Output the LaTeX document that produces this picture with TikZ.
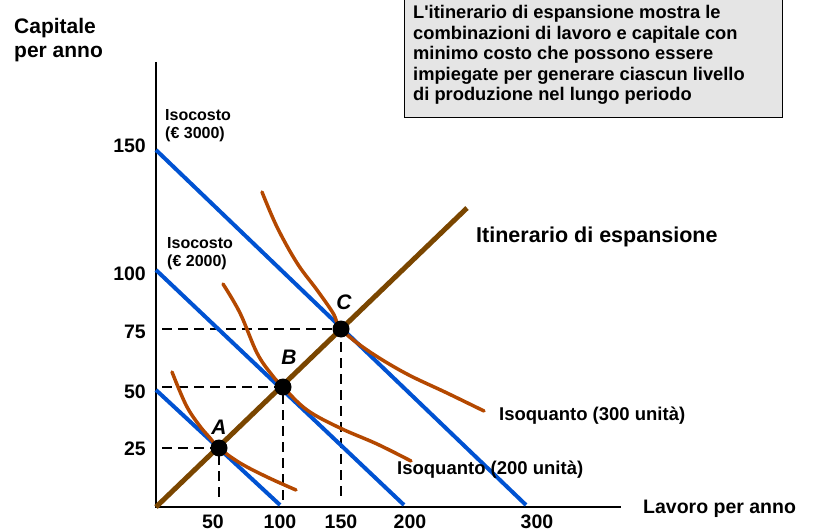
\documentclass[tikz,border=0pt]{standalone}
\usepackage{fontspec}
\setmainfont{Liberation Sans}
\begin{document}
\begin{tikzpicture}[x=1pt,y=-1pt,
  isocost/.style={line width=4pt,color=costblue},
  isoq/.style={line width=3.5pt,color=qorange,line cap=round},
  exppath/.style={line width=5pt,color=pbrown},
  guide/.style={line width=2.8pt,dash pattern=on 10pt off 6pt},
  axis/.style={line width=2.2pt},
  dot/.style={circle,fill=black,minimum size=17pt,inner sep=0pt},
  lbl/.style={font=\bfseries\fontsize{21.5}{24}\selectfont,inner sep=0pt},
  tick/.style={font=\bfseries\fontsize{19.5}{22}\selectfont,inner sep=0pt},
  small/.style={font=\bfseries\fontsize{16}{18}\selectfont,inner sep=0pt,align=left},
  qlbl/.style={font=\bfseries\fontsize{18.5}{21}\selectfont,inner sep=0pt},
  pt/.style={font=\bfseries\itshape\fontsize{21}{24}\selectfont,inner sep=0pt}]
\definecolor{costblue}{RGB}{0,82,210}
\definecolor{qorange}{RGB}{180,72,0}
\definecolor{pbrown}{RGB}{122,70,0}
\useasboundingbox (0,0) rectangle (813,532);
% text box
\node (box) [draw,line width=1pt,fill=gray!20,minimum width=378pt,minimum height=118pt,anchor=north west,inner sep=0pt] at (404,-1) {};
\node (boxtext) [anchor=north west,inner sep=0pt,align=left,font=\bfseries\fontsize{18.3}{20.6}\selectfont] at (413,5)
 {L\textquotesingle itinerario di espansione mostra le\\combinazioni di lavoro e capitale con\\minimo costo che possono essere\\impiegate per generare ciascun livello\\di produzione nel lungo periodo};
% axes
\coordinate (O) at (156,507);
\coordinate (Ytop) at (156,62);
\coordinate (Xend) at (621,507);
\draw[axis] (Ytop) -- (O) -- (Xend);
% points
\coordinate (A) at (219,448);
\coordinate (B) at (283,387);
\coordinate (C) at (341,329);
% guides
\coordinate (Ay) at (162,448); \coordinate (Ax) at (219,500);
\coordinate (By) at (162,387); \coordinate (Bx) at (283,500);
\coordinate (Cy) at (162,329); \coordinate (Cx) at (341,500);
\draw[guide] (Ay) -- (A) -- (Ax);
\draw[guide] (By) -- (B) -- (Bx);
\draw[guide] (Cy) -- (C) -- (Cx);
% isocost lines
\coordinate (k1a) at (156,390); \coordinate (k1b) at (280,505);
\coordinate (k2a) at (156,270); \coordinate (k2b) at (404,505);
\coordinate (k3a) at (156,150); \coordinate (k3b) at (526,505);
\draw[isocost] (k1a) -- (k1b);
\draw[isocost] (k2a) -- (k2b);
\draw[isocost] (k3a) -- (k3b);
% isoquants
\draw[isoq] plot[smooth,tension=0.6] coordinates {(172,372) (186,405) (199,425) (210,438) (219,448) (240,463) (267,477) (296,490)};
\draw[isoq] plot[smooth,tension=0.6] coordinates {(223,284) (240,313) (257,353) (272,375) (283,387) (307,410) (340,428) (377,444) (411,461)};
\draw[isoq] plot[smooth,tension=0.6] coordinates {(262,192) (277,227) (297,263) (317,290) (333,313) (341,329) (367,350) (405,373) (447,393) (484,411)};
% expansion path
\coordinate (Pend) at (467,208);
\draw[exppath] (O) -- (Pend);
\node[dot] (dA) at (A) {};
\node[dot] (dB) at (B) {};
\node[dot] (dC) at (C) {};
\node[pt] (lA) at (219,427) {A};
\node[pt] (lB) at (289,357) {B};
\node[pt] (lC) at (344,302) {C};
% axis labels
\node[anchor=west,align=left,inner sep=0pt,font=\bfseries\fontsize{21}{24}\selectfont] (ylab) at (14,40) {Capitale\\per anno};
\node[anchor=west,inner sep=0pt,font=\bfseries\fontsize{19.5}{22}\selectfont] (xlab) at (643,509) {Lavoro per anno};
% ticks
\node[tick,anchor=east] (t150) at (146,146) {150};
\node[tick,anchor=east] (t100) at (146,274) {100};
\node[tick,anchor=east] (t75) at (146,332) {75};
\node[tick,anchor=east] (t50) at (146,392) {50};
\node[tick,anchor=east] (t25) at (146,449) {25};
\node[tick] (x50) at (213,522) {50};
\node[tick] (x100) at (280,522) {100};
\node[tick] (x150) at (341,522) {150};
\node[tick] (x200) at (410,522) {200};
\node[tick] (x300) at (537,522) {300};
% labels
\node[small,anchor=west] (ic3) at (165,126) {Isocosto\\(\texteuro{} 3000)};
\node[small,anchor=west] (ic2) at (167,254) {Isocosto\\(\texteuro{} 2000)};
\node[lbl,anchor=west] (ep) at (476,237) {Itinerario di espansione};
\node[qlbl,anchor=west] (q3) at (499,416) {Isoquanto (300 unità)};
\node[qlbl,anchor=west] (q2) at (397,470) {Isoquanto (200 unità)};
\end{tikzpicture}
\end{document}
